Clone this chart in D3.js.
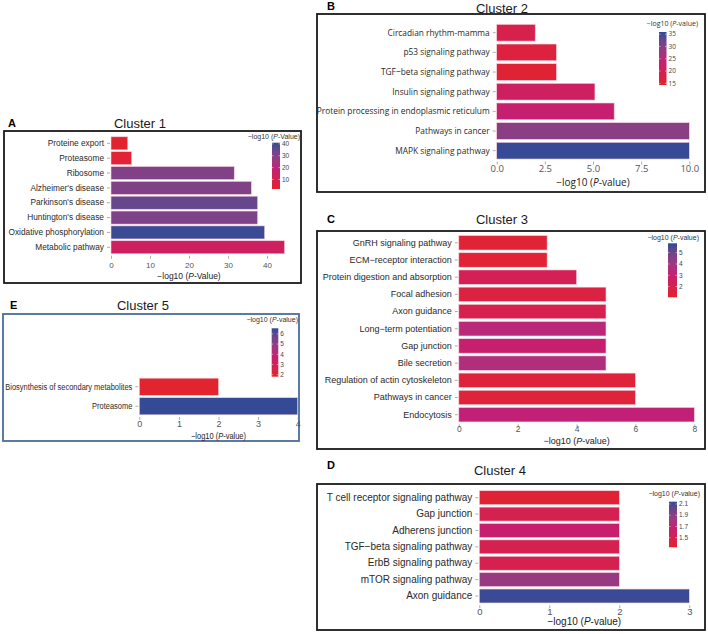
<!DOCTYPE html>
<html>
<head>
<meta charset="utf-8">
<script src="https://cdn.jsdelivr.net/npm/d3@7"></script>
<style>
  body { margin: 0; background: #fff; }
  svg { display: block; }
</style>
</head>
<body>
<div id="chart"></div>
<script>
// KEGG enrichment per cluster, bar length = -log10(P), colour = legend value

// Cluster 1
const c1Terms = ["Proteine export", "Proteasome", "Ribosome", "Alzheimer's disease", "Parkinson's disease",
                 "Huntington's disease", "Oxidative phosphorylation", "Metabolic pathway"];
const c1Values = [4.3, 5.3, 31.6, 36, 37.6, 37.6, 39.4, 44.5];
const c1Colour = [3, 4, 31, 31, 35, 31.5, 40, 14];
const c1Ticks = [0, 10, 20, 30, 40];
const c1LegendRange = [2, 41];
const c1LegendTicks = [10, 20, 30, 40];

// Cluster 2
const c2Terms = ["Circadian rhythm-mamma", "p53 signaling pathway", "TGF\u2212beta signaling pathway",
                 "Insulin signaling pathway", "Protein processing in endoplasmic reticulum",
                 "Pathways in cancer", "MAPK signaling pathway"];
const c2Values = [2.0, 3.1, 3.1, 5.1, 6.1, 10.0, 10.0];
const c2Colour = [18.5, 16.5, 15.5, 21, 23, 29.5, 35.5];
const c2Ticks = [0, 2.5, 5, 7.5, 10];
const c2LegendRange = [14.3, 35.9];
const c2LegendTicks = [15, 20, 25, 30, 35];

// Cluster 3
const c3Terms = ["GnRH signaling pathway", "ECM\u2212receptor interaction", "Protein digestion and absorption",
                 "Focal adhesion", "Axon guidance", "Long\u2212term potentiation", "Gap junction",
                 "Bile secretion", "Regulation of actin cytoskeleton", "Pathways in cancer", "Endocytosis"];
const c3Values = [3, 3, 4, 5, 5, 5, 5, 5, 6, 6, 8];
const c3Colour = [1.3, 1.3, 2.2, 1.6, 2.0, 3.4, 3.0, 3.6, 1.45, 1.45, 3.2];
const c3Ticks = [0, 2, 4, 6, 8];
const c3LegendRange = [1.05, 5.83];
const c3LegendTicks = [2, 3, 4, 5];

// Cluster 4
const c4Terms = ["T cell receptor signaling pathway", "Gap junction", "Adherens junction",
                 "TGF\u2212beta signaling pathway", "ErbB signaling pathway", "mTOR signaling pathway",
                 "Axon guidance"];
const c4Values = [2, 2, 2, 2, 2, 2, 3];
const c4Colour = [1.37, 1.5, 1.65, 1.5, 1.5, 1.85, 2.12];
const c4Ticks = [0, 1, 2, 3];
const c4LegendRange = [1.33, 2.14];
const c4LegendTicks = [1.5, 1.7, 1.9, 2.1];

// Cluster 5
const c5Terms = ["Biosynthesis of secondary metabolites", "Proteasome"];
const c5Values = [2, 4];
const c5Colour = [1.9, 6.5];
const c5Ticks = [0, 1, 2, 3, 4];
const c5LegendRange = [1.8, 6.55];
const c5LegendTicks = [2, 3, 4, 5, 6];

const palette = d3.scaleLinear()
    .domain([0, 0.45, 1])
    .range(["#e3242b", "#c21f77", "#2e4a96"])
    .interpolate(d3.interpolateLab);

const panels = [
  {id: "a", letter: "A", title: "Cluster 1", terms: c1Terms, values: c1Values, colour: c1Colour,
   ticks: c1Ticks, tickFmt: d3.format("d"), legRange: c1LegendRange, legTicks: c1LegendTicks, legFmt: d3.format("d"),
   pWord: "-Value", box: [4, 131, 301, 283], boxColour: "#1a1a1a", titleAt: [140, 123], letterAt: [8, 123],
   x0: 111, xMax: 40, xEnd: 267, yr: [135.9, 254.7], pad: 0.12, tickY: 265, axTitleY: 276,
   font: "Liberation Sans", labSize: 8.3, labScale: 1, tickSize: 8, axSize: 8.5,
   leg: [272, 142.7, 8, 46.3], legTitleX: 300, legTitleY: 137},
  {id: "b", letter: "B", title: "Cluster 2", terms: c2Terms, values: c2Values, colour: c2Colour,
   ticks: c2Ticks, tickFmt: d3.format(".1f"), legRange: c2LegendRange, legTicks: c2LegendTicks, legFmt: d3.format("d"),
   pWord: "-value", box: [317, 14, 705, 192], boxColour: "#1a1a1a", titleAt: [502, 8], letterAt: [327, 6],
   x0: 496.7, xMax: 10, xEnd: 689.3, yr: [22.9, 160.5], pad: 0.15, tickY: 169, axTitleY: 182,
   font: "Open Sans", labSize: 9.6, labScale: 0.87, tickSize: 9.5, axSize: 10,
   leg: [659, 32, 7.5, 53], legTitleX: 698, legTitleY: 24},
  {id: "c", letter: "C", title: "Cluster 3", terms: c3Terms, values: c3Values, colour: c3Colour,
   ticks: c3Ticks, tickFmt: d3.format("d"), legRange: c3LegendRange, legTicks: c3LegendTicks, legFmt: d3.format("d"),
   pWord: "-value", box: [317, 231, 705, 449], boxColour: "#1a1a1a", titleAt: [502, 219], letterAt: [327, 219],
   x0: 458.8, xMax: 8, xEnd: 694.3, yr: [234.2, 423.3], pad: 0.16, tickY: 429.5, axTitleY: 441,
   font: "Liberation Sans", labSize: 9, labScale: 1, tickSize: 8.5, axSize: 9,
   leg: [668, 243.3, 9, 54], legTitleX: 699, legTitleY: 237.5},
  {id: "d", letter: "D", title: "Cluster 4", terms: c4Terms, values: c4Values, colour: c4Colour,
   ticks: c4Ticks, tickFmt: d3.format("d"), legRange: c4LegendRange, legTicks: c4LegendTicks, legFmt: d3.format(".1f"),
   pWord: "-value", box: [317, 484, 705, 630], boxColour: "#1a1a1a", titleAt: [500, 470], letterAt: [327, 465],
   x0: 479.3, xMax: 3, xEnd: 689.3, yr: [489.5, 604.2], pad: 0.15, tickY: 612, axTitleY: 621.5,
   font: "Liberation Sans", labSize: 10, labScale: 1, tickSize: 9.5, axSize: 10,
   leg: [669, 501.7, 8, 45.6], legTitleX: 700, legTitleY: 493.7},
  {id: "e", letter: "E", title: "Cluster 5", terms: c5Terms, values: c5Values, colour: c5Colour,
   ticks: c5Ticks, tickFmt: d3.format("d"), legRange: c5LegendRange, legTicks: c5LegendTicks, legFmt: d3.format("d"),
   pWord: "-value", box: [3, 314, 299, 441], boxColour: "#4a6d9c", titleAt: [143, 305], letterAt: [10, 305],
   x0: 139.3, xMax: 4, xEnd: 297.7, yr: [377, 416], pad: 0.12, tickY: 424, axTitleY: 435.5,
   font: "Liberation Sans", labSize: 9, labScale: 0.83, tickSize: 9, axSize: 8.8, axScale: 0.85,
   leg: [271.7, 328.3, 6.6, 48.4], legTitleX: 298, legTitleY: 320}
];

const svg = d3.select("#chart").append("svg")
    .attr("width", 708)
    .attr("height", 634);

const defs = svg.append("defs");

function drawPanel(p) {
  const g = svg.append("g").attr("font-family", p.font);
  const colourOf = v => palette((v - p.legRange[0]) / (p.legRange[1] - p.legRange[0]));

  // frame
  g.append("rect")
      .attr("x", p.box[0]).attr("y", p.box[1])
      .attr("width", p.box[2] - p.box[0]).attr("height", p.box[3] - p.box[1])
      .attr("fill", "none")
      .attr("stroke", p.boxColour)
      .attr("stroke-width", 1.8);

  svg.append("text")
      .attr("x", p.letterAt[0]).attr("y", p.letterAt[1]).attr("dy", "0.35em")
      .attr("font-family", "Liberation Sans").attr("font-weight", "bold").attr("font-size", 11)
      .text(p.letter);

  svg.append("text")
      .attr("x", p.titleAt[0]).attr("y", p.titleAt[1]).attr("dy", "0.35em")
      .attr("text-anchor", "middle")
      .attr("font-family", "Liberation Sans").attr("font-size", 13).attr("fill", "#1a1a1a")
      .text(p.title);

  const x = d3.scaleLinear().domain([0, p.xMax]).range([p.x0, p.xEnd]);
  const y = d3.scaleBand().domain(p.terms).range(p.yr).paddingInner(p.pad).paddingOuter(p.pad / 2);

  const rows = p.terms.map((t, i) => ({term: t, value: p.values[i], colour: p.colour[i]}));

  g.selectAll("rect.bar")
    .data(rows)
    .enter()
      .append("rect")
        .attr("class", "bar")
        .attr("x", x(0))
        .attr("y", d => y(d.term))
        .attr("width", d => x(d.value) - x(0))
        .attr("height", y.bandwidth())
        .attr("fill", d => colourOf(d.colour))
        .attr("stroke", "#f7cfd9")
        .attr("stroke-width", 0.6);

  // category axis
  const yAxis = g.append("g")
      .attr("transform", `translate(${x(0) - 1}, 0)`)
      .call(d3.axisLeft(y).tickSize(3).tickPadding(3));
  yAxis.select(".domain").remove();
  yAxis.selectAll(".tick line").attr("stroke", "#777").attr("stroke-width", 0.6);
  yAxis.selectAll(".tick text")
      .attr("font-family", p.font)
      .attr("font-size", p.labSize)
      .attr("fill", "#2a2a2a")
      .attr("x", -6 / p.labScale)
      .attr("transform", `scale(${p.labScale},1)`);

  // value axis
  const axisY = p.yr[1] + 1;
  const xAxis = g.append("g")
      .attr("transform", `translate(0, ${axisY})`)
      .call(d3.axisBottom(x).tickValues(p.ticks).tickFormat(p.tickFmt).tickSize(3));
  xAxis.select(".domain").remove();
  xAxis.selectAll(".tick line").attr("stroke", "#777").attr("stroke-width", 0.6);
  xAxis.selectAll(".tick text")
      .attr("font-family", p.font)
      .attr("font-size", p.tickSize)
      .attr("fill", "#555")
      .attr("y", p.tickY - axisY)
      .attr("dy", "0.35em");

  const axScale = p.axScale || 1;
  const axTitle = g.append("text")
      .attr("transform", `translate(${(p.x0 + p.xEnd) / 2}, ${p.axTitleY}) scale(${axScale},1)`)
      .attr("dy", "0.35em")
      .attr("text-anchor", "middle")
      .attr("font-size", p.axSize)
      .attr("fill", "#222");
  axTitle.append("tspan").text("\u2212log10 (");
  axTitle.append("tspan").attr("font-style", "italic").text("P");
  axTitle.append("tspan").text(p.pWord + ")");

  // colour bar
  const [lx, ly, lw, lh] = p.leg;
  const grad = defs.append("linearGradient")
      .attr("id", "grad-" + p.id)
      .attr("x1", 0).attr("y1", 1).attr("x2", 0).attr("y2", 0);
  d3.range(0, 1.0001, 0.1).forEach(t => {
    grad.append("stop").attr("offset", t).attr("stop-color", palette(t));
  });
  g.append("rect")
      .attr("x", lx).attr("y", ly).attr("width", lw).attr("height", lh)
      .attr("fill", `url(#grad-${p.id})`);

  const ly2 = d3.scaleLinear().domain(p.legRange).range([ly + lh, ly]);
  const legG = g.append("g");
  p.legTicks.forEach(v => {
    legG.append("line")
        .attr("x1", lx).attr("x2", lx + 1.5)
        .attr("y1", ly2(v)).attr("y2", ly2(v))
        .attr("stroke", "#fff").attr("stroke-width", 0.5);
    legG.append("line")
        .attr("x1", lx + lw - 1.5).attr("x2", lx + lw)
        .attr("y1", ly2(v)).attr("y2", ly2(v))
        .attr("stroke", "#fff").attr("stroke-width", 0.5);
    legG.append("text")
        .attr("x", lx + lw + 2).attr("y", ly2(v)).attr("dy", "0.35em")
        .attr("font-size", 6.5)
        .attr("fill", "#444")
        .text(p.legFmt(v));
  });

  const legTitle = g.append("text")
      .attr("x", p.legTitleX).attr("y", p.legTitleY).attr("dy", "0.35em")
      .attr("text-anchor", "end")
      .attr("font-size", 7)
      .attr("fill", "#333");
  legTitle.append("tspan").text("\u2212log10 (");
  legTitle.append("tspan").attr("font-style", "italic").text("P");
  legTitle.append("tspan").text(p.pWord + ")");
}

panels.forEach(drawPanel);
</script>
</body>
</html>
